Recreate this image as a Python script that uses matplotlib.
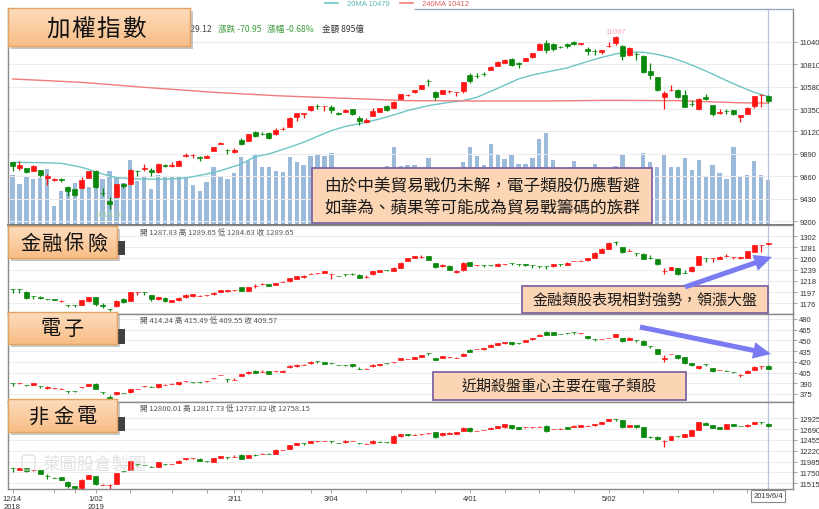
import matplotlib
matplotlib.use("Agg")
import numpy as np
import matplotlib.pyplot as plt
from matplotlib.patches import Rectangle, FancyArrowPatch, FancyBboxPatch
from matplotlib.lines import Line2D
from matplotlib.transforms import Affine2D
from matplotlib.colors import LinearSegmentedColormap

plt.rcParams['font.family'] = ['Noto Sans CJK TC', 'DejaVu Sans']

# ---------------- data ----------------
tick_idx = [0, 12, 32, 46, 66, 86]
tick_labels = ['12/14\n2018', '1/02\n2019', '2/11', '3/04', '4/01', '5/02']
minor_idx = [0, 6, 9, 12, 17, 23, 28, 33, 36, 43, 46, 51, 56, 61, 66, 71, 76, 81, 86, 91, 96, 101, 106]
last_date = '2019/6/4'

taiex_o = [9803,9748,9741,9714,9721,9638,9621,9629,9546,9529,
9543,9642,9714,9491,9409,9450,9577,9577,9718,9739,
9721,9700,9771,9762,9769,9868,9877,9861,9851,9920,
9991,9931,9906,10029,10026,10111,10092,10101,10091,10147,
10170,10266,10303,10338,10381,10377,10375,10305,10324,10351,
10262,10221,10283,10324,10379,10365,10454,10497,10523,10557,
10638,10523,10506,10535,10522,10540,10704,10692,10713,10752,
10797,10828,10865,10819,10845,10886,10961,11030,11016,10987,
11016,11044,11016,10972,10946,10934,10994,11030,10996,10907,
10918,10900,10745,10677,10478,10545,10547,10499,10404,10351,
10471,10392,10315,10335,10341,10266,10300,10379,10495,10480]
taiex_h = [9810,9813,9748,9772,9728,9683,9638,9642,9556,9532,
9656,9717,9721,9536,9443,9584,9591,9731,9720,9782,
9741,9793,9786,9810,9824,9899,9889,9871,9875,9965,
10009,9940,9947,10057,10095,10129,10111,10111,10153,10163,
10266,10310,10307,10383,10403,10386,10392,10317,10348,10355,
10276,10255,10365,10362,10392,10431,10505,10506,10547,10602,
10660,10536,10550,10543,10530,10632,10718,10718,10728,10790,
10842,10865,10876,10831,10876,10930,11026,11064,11030,11002,
11030,11054,11033,10985,10968,10961,11037,11097,11009,10985,
10934,10903,10824,10684,10533,10598,10557,10547,10447,10461,
10506,10392,10351,10351,10345,10293,10368,10488,10502,10495]
taiex_l = [9715,9724,9693,9710,9649,9570,9615,9604,9460,9460,
9536,9638,9536,9460,9319.28,9446,9536,9573,9666,9717,
9666,9697,9752,9752,9765,9854,9844,9817,9847,9916,
9988,9885,9899,9981,10022,10060,10084,10043,10087,10139,
10166,10231,10255,10334,10351,10334,10310,10290,10320,10290,
10190,10207,10276,10320,10331,10361,10450,10488,10519,10553,
10584,10447,10502,10516,10488,10516,10619,10674,10687,10749,
10793,10821,10790,10776,10841,10872,10955,10927,10951,10975,
10978,11009,11013,10907,10907,10917,10992,11009,10859,10900,
10859,10725,10660,10536,10351,10533,10461,10372,10379,10338,
10444,10276,10300,10300,10290,10214,10296,10358,10368,10413]
taiex_c = [9762,9776,9707,9769,9673,9666,9632,9625,9512,9467,
9625,9711,9546,9484,9375,9577,9556,9724,9716,9742,
9700,9789,9767,9776,9820,9882,9879,9844,9872,9961,
10002,9928,9926,9995,10091,10077,10090,10053,10139,10150,
10262,10307,10305,10379,10377,10380,10341,10302,10344,10300,
10231,10242,10331,10358,10341,10427,10502,10499,10543,10598,
10635,10471,10547,10538,10525,10625,10636,10690,10711,10787,
10838,10855,10804,10816,10872,10924,11020,10961,10968,10984,
10996,11023,11030,10948,10944,10958,10996,11088,10893,10975,
10915,10728,10704,10547,10512,10547,10471,10375,10401,10454,
10451,10300,10318,10332,10300,10290,10365,10482,10500,10429.12]
volume = [1000,820,980,920,940,1120,380,680,720,840,
760,760,1080,920,1080,940,840,1300,880,960,
720,1000,960,960,980,960,800,680,860,1160,
960,920,1040,1360,1280,1420,1160,1160,1080,1060,
1360,1260,1200,1380,1420,1380,1440,1100,1000,960,
1040,940,1080,1000,1180,1560,1180,1200,1200,1100,
1340,1000,1050,980,1020,1260,1560,1380,1200,1620,
1400,1320,1420,1220,1220,1340,1720,1840,1300,1050,
1000,1280,1160,1160,1220,1060,1100,1180,1400,1080,
1040,1440,1260,1160,1420,1160,1160,1340,1100,1300,
960,1200,1040,920,1560,960,1000,1280,1000,895]

ma20_idx = [0,4,7,10,13,15,18,22,25,28,30,33,35,37,40,42,44,46,48,51,53,55,57,60,63,65,67,70,73,75,
            78,80,83,85,87,89,91,93,95,97,99,101,103,105,107,109]
ma20_val = [9803,9800,9793,9752,9683,9645,9632,9629,9642,9683,9717,9786,9861,9889,9960,10009,10070,10129,
            10172,10214,10250,10290,10335,10386,10420,10437,10471,10564,10660,10701,10745,10773,10841,
            10882,10917,10937,10934,10913,10879,10831,10773,10711,10643,10581,10523,10479]
ma240_idx = [0,10,19,29,38,48,57,67,77,86,96,105,109]
ma240_val = [10660,10625,10574,10523,10488,10461,10437,10434,10434,10440,10437,10415,10412]

taiex_chg = -70.95
taiex_pct = -0.68
taiex_amount = 895

fin_o = [1202.8,1202.0,1196.9,1189.4,1186.8,1183.6,1183.0,1180.3,1172.8,1172.8,
1173.4,1179.2,1186.7,1171.7,1165.3,1170.3,1184.2,1180.4,1196.2,1196.9,
1190.5,1183.0,1186.1,1178.5,1181.7,1186.7,1188.6,1189.9,1191.1,1192.4,
1196.9,1198.1,1200.5,1205.7,1198.8,1208.2,1212.0,1212.1,1210.8,1216.4,
1217.2,1222.2,1224.7,1231.0,1232.3,1232.9,1230.4,1227.3,1230.4,1231.7,
1229.8,1225.3,1230.4,1234.9,1238.0,1236.2,1242.5,1255.8,1260.8,1263.3,
1264.0,1250.7,1245.0,1246.3,1235.5,1238.0,1252.6,1246.9,1247.5,1247.5,
1246.3,1248.8,1251.4,1250.1,1248.8,1247.5,1246.3,1246.3,1245.0,1250.1,
1248.2,1255.2,1255.8,1256.4,1260.8,1271.0,1277.9,1290.6,1281.1,1274.7,
1271.0,1269.1,1260.8,1258.9,1236.1,1239.3,1241.2,1233.6,1236.1,1247.5,
1261.5,1260.2,1259.6,1265.2,1263.3,1260.0,1261.5,1272.9,1285.4,1287.83]
fin_h = [1203.0,1202.4,1198.1,1189.6,1189.3,1184.8,1183.6,1182.3,1172.9,1173.5,
1182.8,1188.0,1187.0,1176.6,1165.5,1181.6,1185.0,1197.5,1196.5,1197.0,
1191.1,1187.4,1186.8,1182.3,1186.7,1192.4,1193.0,1191.0,1192.0,1196.2,
1200.6,1201.3,1201.5,1206.3,1207.0,1211.4,1213.4,1212.7,1214.6,1217.0,
1224.1,1228.0,1228.5,1232.0,1233.0,1237.4,1231.0,1228.0,1230.6,1232.0,
1230.4,1229.8,1237.4,1238.6,1238.6,1243.1,1253.0,1261.5,1265.2,1265.9,
1265.2,1251.3,1248.8,1247.0,1238.0,1252.6,1253.2,1247.5,1247.6,1248.0,
1250.7,1250.0,1251.6,1250.2,1249.0,1247.6,1246.4,1246.4,1249.4,1250.2,
1252.6,1256.0,1256.5,1261.4,1271.6,1279.2,1290.6,1292.5,1281.7,1277.3,
1271.2,1269.7,1266.5,1259.5,1241.2,1243.7,1241.8,1238.0,1245.0,1265.2,
1261.6,1260.4,1264.0,1267.8,1263.5,1263.3,1274.7,1286.1,1286.0,1289.65]
fin_l = [1195.6,1195.6,1184.2,1184.2,1183.0,1182.0,1181.7,1177.9,1168.4,1169.0,
1173.0,1178.6,1170.3,1166.5,1160.8,1169.7,1177.0,1180.0,1192.0,1192.0,
1179.8,1182.4,1179.0,1178.0,1181.0,1186.1,1188.0,1189.0,1190.3,1191.8,
1196.3,1197.5,1199.8,1198.2,1198.2,1205.1,1211.0,1207.7,1210.2,1216.0,
1216.6,1221.6,1224.0,1230.0,1231.5,1232.3,1221.0,1226.5,1228.0,1229.0,
1222.9,1223.5,1229.8,1234.3,1237.0,1235.6,1242.0,1255.0,1260.2,1260.8,
1256.4,1242.5,1244.4,1238.7,1233.0,1237.4,1245.0,1246.3,1244.4,1246.5,
1245.7,1247.5,1247.0,1245.6,1245.0,1243.0,1243.0,1240.6,1244.4,1246.0,
1247.6,1254.5,1255.2,1255.8,1260.2,1270.4,1277.3,1285.5,1270.0,1274.0,
1265.3,1258.3,1259.0,1248.2,1231.7,1238.7,1229.8,1232.0,1235.5,1247.0,
1253.9,1253.9,1259.0,1263.3,1258.3,1259.4,1260.9,1272.3,1272.9,1284.63]
fin_c = [1202.4,1201.8,1185.5,1189.2,1186.6,1183.4,1182.8,1180.5,1172.6,1172.5,
1182.3,1187.4,1174.0,1171.5,1165.1,1181.0,1177.9,1196.9,1196.3,1196.7,
1183.0,1186.8,1179.8,1181.7,1185.5,1191.8,1192.4,1190.2,1191.4,1195.6,
1200.0,1200.7,1200.7,1198.8,1206.4,1208.4,1212.2,1208.3,1214.0,1216.6,
1223.5,1227.3,1227.3,1231.1,1232.4,1236.8,1230.7,1227.1,1230.2,1231.5,
1223.5,1225.5,1236.8,1238.0,1237.8,1242.5,1252.0,1260.8,1264.6,1263.5,
1257.0,1243.1,1248.2,1239.3,1235.6,1252.0,1245.6,1247.0,1247.3,1247.3,
1250.1,1248.9,1251.2,1249.9,1248.6,1247.3,1246.1,1246.0,1248.8,1249.9,
1252.0,1255.3,1256.0,1260.8,1271.0,1278.6,1290.0,1290.4,1272.9,1274.8,
1270.8,1258.9,1260.6,1248.8,1236.2,1243.1,1230.4,1233.4,1244.4,1264.6,
1261.3,1260.3,1263.4,1265.3,1263.4,1262.7,1274.1,1285.5,1285.6,1289.65]

ele_o = [390.2,389.9,387.3,387.6,385.7,382.9,382.9,382.4,379.7,379.6,
384.2,386.2,389.5,377.4,371.3,374.5,376.4,377.3,381.9,385.7,
385.3,384.3,388.0,389.4,388.5,392.6,391.4,391.3,392.6,397.0,
401.6,396.0,395.0,400.7,404.0,407.7,406.1,406.7,406.7,405.8,
412.3,413.7,416.0,417.9,420.8,419.3,418.4,415.6,416.1,416.5,
410.5,410.5,413.7,415.1,418.4,419.3,422.6,424.0,424.5,427.3,
432.9,425.4,425.9,426.3,425.8,428.2,437.0,438.0,437.5,441.3,
444.0,445.9,447.8,445.9,447.8,451.5,456.2,462.3,461.8,459.0,
460.9,461.3,459.9,455.7,452.0,451.9,453.3,455.3,452.9,450.6,
451.1,449.7,442.7,437.5,424.0,431.0,429.6,426.3,417.9,410.9,
417.0,410.9,408.5,407.7,406.3,402.0,404.9,408.6,414.2,414.24]
ele_h = [390.3,390.5,388.0,390.4,385.8,385.8,384.0,383.0,379.8,379.7,
385.0,389.1,390.1,377.6,373.5,377.9,377.0,382.6,382.4,386.2,
385.8,389.6,388.5,389.9,391.9,393.1,391.9,391.8,393.1,397.5,
402.1,396.1,398.0,403.6,406.9,408.3,408.0,407.3,407.2,408.2,
415.3,416.6,416.5,420.8,420.9,419.9,418.5,416.1,416.2,417.1,
413.0,411.0,416.6,417.5,418.5,419.8,425.4,424.5,426.8,430.1,
433.0,426.0,428.7,426.8,426.3,432.0,437.5,438.5,439.9,444.6,
446.9,447.8,448.3,446.4,450.6,453.9,458.5,463.0,462.3,459.5,
461.0,461.4,460.4,456.3,452.1,452.4,453.8,459.0,453.3,454.4,
451.2,450.2,442.8,438.0,429.0,431.5,430.1,426.8,418.4,414.2,
417.1,411.4,409.0,408.2,406.4,402.5,408.2,413.8,414.8,415.49]
ele_l = [386.7,389.0,386.0,387.0,384.0,382.4,382.0,381.8,377.0,377.5,
383.0,385.7,381.4,375.0,367.4,373.9,375.8,376.7,381.4,385.2,
384.8,383.7,387.5,388.9,388.0,392.1,390.9,390.8,392.1,396.5,
401.1,392.0,394.9,400.1,403.5,404.3,406.0,402.4,406.2,405.3,
411.7,413.2,415.5,417.4,419.0,416.4,416.5,415.1,414.0,413.1,
410.2,410.0,413.2,414.6,416.5,418.8,422.1,423.5,424.0,426.8,
430.0,422.0,425.4,425.8,425.3,427.7,433.8,437.5,437.0,440.8,
443.5,445.4,444.0,445.3,447.3,451.0,455.7,457.6,457.6,458.5,
459.0,459.5,459.4,452.5,449.0,451.4,452.8,454.8,448.2,450.1,
448.0,443.6,439.0,430.5,420.5,430.5,424.4,417.4,414.6,410.4,
414.0,406.2,408.0,407.0,404.0,399.0,404.4,408.1,410.0,409.55]
ele_c = [390.0,390.1,387.1,389.9,385.5,385.3,383.1,382.6,379.5,379.4,
384.4,388.5,382.0,377.2,368.0,377.3,376.2,382.0,382.0,385.8,
385.1,389.0,388.1,389.5,391.3,392.8,391.2,391.1,392.8,397.1,
401.8,395.8,395.2,403.0,406.3,404.9,406.3,403.0,406.9,407.7,
414.7,416.1,416.1,420.3,420.6,417.0,418.2,415.4,415.9,413.7,
410.3,410.6,416.1,417.0,418.2,419.4,424.9,424.1,426.3,429.6,
432.7,422.6,428.2,426.4,425.9,431.5,434.3,438.1,439.4,444.1,
446.4,447.3,444.5,445.8,450.1,453.4,458.0,458.1,458.1,458.9,
460.7,461.1,460.0,453.0,451.8,452.0,453.4,458.5,448.7,453.9,
450.9,444.1,442.5,431.0,426.0,431.1,424.9,417.9,415.1,413.7,
416.8,406.7,408.6,407.5,406.1,402.2,407.7,413.3,414.3,409.57]

nfe_o = [11840,11811,11847,11795,11804,11681,11638,11644,11550,11449,
11406,11608,11666,11478,11478,11500,11789,11804,11927,11919,
11876,11869,11934,11933,11948,12035,12056,12050,11992,11977,
12057,12079,12093,12129,12071,12130,12150,12158,12151,12237,
12259,12346,12382,12390,12425,12432,12433,12397,12404,12432,
12397,12374,12382,12420,12406,12397,12534,12585,12569,12577,
12598,12621,12556,12578,12585,12643,12722,12649,12671,12693,
12708,12729,12780,12729,12728,12728,12743,12766,12692,12700,
12729,12737,12744,12765,12773,12809,12860,12911,12889,12744,
12773,12729,12528,12527,12432,12455,12535,12527,12549,12672,
12831,12780,12729,12701,12802,12760,12751,12802,12846,12800.01]
nfe_h = [11841,11852,11852,11800,11810,11710,11645,11650,11555,11455,
11600,11700,11675,11490,11500,11745,11792,12005,11930,11922,
11883,11975,11936,11940,12010,12068,12062,12055,11996,12062,
12112,12081,12120,12140,12135,12140,12165,12175,12250,12242,
12350,12386,12384,12430,12430,12437,12435,12399,12444,12437,
12399,12380,12444,12425,12410,12553,12590,12590,12575,12583,
12610,12628,12603,12618,12625,12730,12730,12655,12677,12726,
12755,12810,12784,12733,12734,12734,12749,12773,12698,12706,
12733,12770,12777,12771,12806,12842,12914,12913,12895,12777,
12777,12733,12540,12531,12455,12545,12539,12589,12676,12842,
12835,12784,12733,12806,12806,12764,12791,12849,12848,12817.73]
nfe_l = [11768,11806,11770,11790,11710,11608,11630,11580,11406,11400,
11400,11600,11485,11470,11400,11495,11750,11800,11900,11905,
11860,11865,11920,11928,11945,12031,12052,11995,11986,11973,
12053,12050,12090,12035,12066,12110,12140,12155,12146,12232,
12255,12342,12350,12386,12420,12428,12400,12380,12400,12428,
12370,12370,12378,12410,12400,12393,12530,12552,12565,12573,
12594,12505,12552,12574,12581,12639,12625,12645,12667,12689,
12704,12725,12700,12697,12724,12724,12739,12630,12688,12696,
12697,12733,12740,12761,12769,12805,12856,12875,12725,12740,
12725,12523,12490,12465,12295,12451,12529,12523,12545,12668,
12783,12718,12689,12697,12762,12754,12747,12798,12810,12737.82]
nfe_c = [11838,11847,11775,11797,11724,11679,11636,11587,11449,11406,
11594,11695,11493,11480,11480,11739,11787,11999,11925,11917,
11874,11970,11932,11935,12006,12064,12058,11999,11990,12057,
12108,12077,12095,12042,12129,12128,12152,12156,12245,12239,
12346,12382,12380,12426,12427,12434,12431,12395,12440,12434,
12395,12376,12440,12418,12404,12549,12585,12556,12571,12579,
12600,12512,12599,12614,12621,12722,12643,12651,12673,12722,
12751,12802,12715,12701,12730,12730,12745,12643,12694,12702,
12701,12766,12773,12767,12802,12838,12910,12909,12729,12773,
12729,12527,12526,12469,12434,12541,12533,12585,12672,12838,
12787,12722,12693,12802,12766,12758,12787,12845,12844,12758.15]

taiex_ticks = [9200, 9430, 9660, 9890, 10120, 10350, 10580, 10810, 11040]
fin_ticks = [1176, 1197, 1218, 1239, 1260, 1281, 1302]
ele_ticks = [375, 390, 405, 420, 435, 450, 465, 480]
nfe_ticks = [11515, 11750, 11985, 12220, 12455, 12690, 12925]

# ---------------- layout helpers ----------------
W, H = 820, 510
fig = plt.figure(figsize=(W / 100, H / 100), dpi=100)
fig.patch.set_facecolor('white')
PX = Affine2D().scale(1 / W, -1 / H).translate(0, 1) + fig.transFigure


def rect_px(x0, y0, x1, y1):
    return [x0 / W, 1 - y1 / H, (x1 - x0) / W, (y1 - y0) / H]


N = len(taiex_c)
xs = list(range(N))
XL = (-0.65, 112.6)
UP, DN = '#ff1414', '#08880a'
TICKFONT = 'Liberation Sans'


def draw_candles(ax, o, h, l, c):
    cols = [UP if cc >= oo else DN for oo, cc in zip(o, c)]
    ax.vlines(xs, l, h, colors=cols, lw=0.9, zorder=3)
    ax.bar(xs, [cc - oo for oo, cc in zip(o, c)], bottom=o, width=0.72,
           color=cols, edgecolor=cols, lw=0.5, zorder=4)


def style_panel(ax, ylim, ticks):
    ax.set_xlim(*XL)
    ax.set_ylim(*ylim)
    ax.yaxis.tick_right()
    ax.set_yticks(ticks)
    ax.set_yticklabels([str(t) for t in ticks])
    ax.tick_params(axis='y', length=3, width=0.6, color='#999999', labelsize=5.5,
                   labelcolor='#333333', pad=1.5, labelfontfamily=TICKFONT)
    ax.tick_params(axis='x', which='both', bottom=False, labelbottom=False)
    ax.grid(axis='y', color='#ececec', lw=0.7)
    ax.set_axisbelow(True)
    for s in ax.spines.values():
        s.set_color('#8a8a8a')
        s.set_linewidth(1.0)
    ax.axvline(N - 1, color='#b8c4de', lw=0.9, zorder=2)


# ---------------- TAIEX panel ----------------
ax_v = fig.add_axes(rect_px(8, 10, 793, 226), label='vol')
ax_v.bar(xs, volume, width=0.62, color='#9cbad9', zorder=1)
ax_v.set_xlim(*XL)
ax_v.set_ylim(0, 4320)
ax_v.axis('off')

ax1 = fig.add_axes(rect_px(8, 10, 793, 226), label='taiex')
ax1.patch.set_visible(False)
style_panel(ax1, (9159, 11379), taiex_ticks)
ax1.spines['top'].set_visible(False)
ax1.spines['bottom'].set_color('#6a6a6a')
ax1.spines['bottom'].set_linewidth(1.3)
ax1.plot(ma20_idx, ma20_val, color='#6cc5c5', lw=1.0, zorder=2)
ax1.plot(ma240_idx, ma240_val, color='#f27a7a', lw=1.0, zorder=2)
draw_candles(ax1, taiex_o, taiex_h, taiex_l, taiex_c)
imax = taiex_h.index(max(taiex_h))
imin = taiex_l.index(min(taiex_l))
ax1.text(imax, max(taiex_h) + 18, f'{max(taiex_h):.0f}', color='#ffa6c6', fontsize=5.5,
         ha='center', va='bottom', fontfamily=TICKFONT)
ax1.text(imin, min(taiex_l) - 18, f'{min(taiex_l):.2f}', color='#a6d6a6', fontsize=5.5,
         ha='center', va='top', fontfamily=TICKFONT)
fig.add_artist(Line2D([415, 793], [10, 10], transform=PX, color='#9aa6bd', lw=1.0))

# ---------------- sub panels ----------------
ax2 = fig.add_axes(rect_px(8, 226, 793, 315), label='fin')
style_panel(ax2, (1155.7, 1322.9), fin_ticks)
draw_candles(ax2, fin_o, fin_h, fin_l, fin_c)

ax3 = fig.add_axes(rect_px(8, 315, 793, 403), label='ele')
style_panel(ax3, (363.8, 487.0), ele_ticks)
draw_candles(ax3, ele_o, ele_h, ele_l, ele_c)

ax4 = fig.add_axes(rect_px(8, 403, 793, 490), label='nfe')
style_panel(ax4, (11391, 13279), nfe_ticks)
draw_candles(ax4, nfe_o, nfe_h, nfe_l, nfe_c)
ax4.set_xticks(tick_idx)
ax4.set_xticklabels(tick_labels)
ax4.set_xticks(minor_idx, minor=True)
ax4.tick_params(axis='x', which='both', bottom=True, labelbottom=True, length=3, width=0.6,
                color='#999999', labelsize=5.5, labelcolor='#333333', pad=1.5,
                labelfontfamily=TICKFONT)

fig.text(768, 497, last_date, transform=PX, ha='center', va='center', fontsize=5.5,
         color='#333333', fontfamily=TICKFONT, zorder=30,
         bbox=dict(boxstyle='square,pad=0.3', fc='white', ec='#8a8a8a', lw=0.8))

# ---------------- header texts ----------------
fig.add_artist(Line2D([325, 338], [4, 4], transform=PX, color='#6cc5c5', lw=1.2))
fig.text(347, 4, f'20MA {ma20_val[-1]}', transform=PX, va='center', fontsize=5.5,
         color='#5ab8b8', fontfamily=TICKFONT)
fig.add_artist(Line2D([400, 413], [4, 4], transform=PX, color='#f27a7a', lw=1.2))
fig.text(422, 4, f'240MA {ma240_val[-1]}', transform=PX, va='center', fontsize=5.5,
         color='#e06060', fontfamily=TICKFONT)

fig.text(212, 29, f'{taiex_c[-1]:.2f}', transform=PX, ha='right', va='center', fontsize=6.2,
         color='#444444', zorder=5)
fig.text(218, 29, f'漲跌 {taiex_chg:.2f}', transform=PX, va='center', fontsize=6.2, color='#3a9a3a')
fig.text(267, 29, f'漲幅 {taiex_pct:.2f}%', transform=PX, va='center', fontsize=6.2, color='#3a9a3a')
fig.text(322, 29, f'金額 {taiex_amount}億', transform=PX, va='center', fontsize=6.2, color='#333333')

for (o, h, l, c), yy in [((fin_o, fin_h, fin_l, fin_c), 233),
                         ((ele_o, ele_h, ele_l, ele_c), 321),
                         ((nfe_o, nfe_h, nfe_l, nfe_c), 409)]:
    fig.text(140, yy, f'開 {o[-1]:.2f} 高 {h[-1]:.2f} 低 {l[-1]:.2f} 收 {c[-1]:.2f}',
             transform=PX, va='center', fontsize=5.5, color='#555555')

# ---------------- peach title boxes ----------------
peach_cmap = LinearSegmentedColormap.from_list('peach', ['#fddcbd', '#f8be86'])


def peach_box(x0, y0, x1, y1, chars, centers, cy, size):
    fig.add_artist(Rectangle((x0 + 3, y0 + 3), x1 - x0, y1 - y0, transform=PX,
                             fc='#9a9a9a', ec='none', alpha=0.55, zorder=19))
    gax = fig.add_axes(rect_px(x0, y0, x1, y1), zorder=20, label='box%d' % y0)
    gax.imshow(np.linspace(0, 1, 64).reshape(-1, 1), aspect='auto', cmap=peach_cmap,
               extent=(0, 1, 1, 0))
    gax.set_xticks([])
    gax.set_yticks([])
    for s in gax.spines.values():
        s.set_color('#e2a463')
        s.set_linewidth(1.0)
    for ch, cx in zip(chars, centers):
        fig.text(cx, cy, ch, transform=PX, ha='center', va='center', fontsize=size,
                 color='#111111', zorder=21)


peach_box(8, 9, 190, 47, '加權指數', [58, 83, 108, 134], 29, 17)
peach_box(8, 227, 117, 259, '金融保險', [30, 52, 74, 97], 244, 14.5)
peach_box(8, 313, 117, 345, '電子', [51, 74], 329, 14.5)
peach_box(8, 400, 117, 433, '非金電', [39, 63, 87], 417, 14.5)

for y0, y1 in [(242, 256), (330, 345), (418, 432)]:
    fig.add_artist(Rectangle((118, y0), 7, y1 - y0, transform=PX, fc='#404040', ec='none', zorder=19))

# ---------------- watermark ----------------
fig.add_artist(FancyBboxPatch((22, 456), 13, 15, boxstyle='round,pad=0,rounding_size=3',
                              transform=PX, fc='none', ec='#dadada', lw=1.0, zorder=15, alpha=0.8))
fig.text(95, 465, '萊圖股倉製圖', transform=PX, ha='center', va='center', fontsize=12.5,
         color='#cfcfcf', alpha=0.6, zorder=15)

# ---------------- annotations ----------------
def note(x0, y0, x1, y1, lines, ys, size):
    fig.add_artist(Rectangle((x0, y0), x1 - x0, y1 - y0, transform=PX, fc='#fcd5b4',
                             ec='#8064a2', lw=1.3, zorder=22))
    for t, yy in zip(lines, ys):
        fig.text((x0 + x1) / 2, yy, t, transform=PX, ha='center', va='center',
                 fontsize=size, color='#1a1a1a', zorder=23)


note(312, 169, 652, 224, ['由於中美貿易戰仍未解，電子類股仍應暫避', '如華為、蘋果等可能成為貿易戰籌碼的族群'],
     [187, 208], 12)
note(522, 287, 768, 314, ['金融類股表現相對強勢，領漲大盤'], [301], 10.8)
note(433, 373, 686, 401, ['近期殺盤重心主要在電子類股'], [387], 10.8)

for (a, b) in [((685, 288), (772, 258)), ((640, 328), (771, 355))]:
    fig.add_artist(FancyArrowPatch(a, b, transform=PX, color='#7a7af2', zorder=24,
                                   arrowstyle='simple,head_length=1.6,head_width=1.5,tail_width=0.45',
                                   mutation_scale=8, shrinkA=0, shrinkB=0, lw=0))

fig.savefig('out.png', dpi=100)
